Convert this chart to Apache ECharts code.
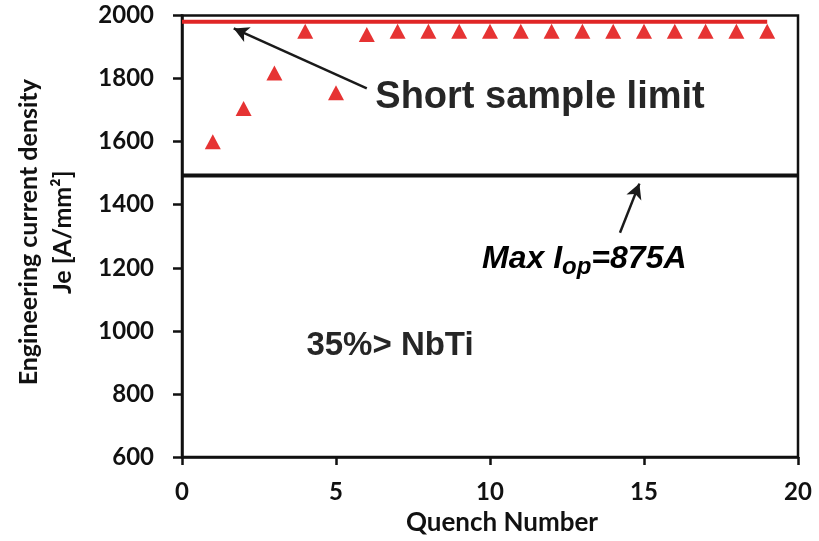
<!DOCTYPE html>
<html>
<head>
<meta charset="utf-8">
<title>Quench training</title>
<script src="https://cdn.jsdelivr.net/npm/echarts@6/dist/echarts.min.js"></script>
<style>
  html, body { margin: 0; padding: 0; background: #fff; }
  #quenchChart { width: 819px; height: 541px; }
</style>
</head>
<body>
<div id="quenchChart"></div>
<script>
  // quench number vs engineering current density Je [A/mm2]
  var quenchNo = [1, 2, 3, 4, 5, 6, 7, 8, 9, 10, 11, 12, 13, 14, 15, 16, 17, 18, 19];
  var jeValues = [1600, 1705, 1818, 1950, 1755, 1940, 1950, 1950, 1950, 1950,
                  1950, 1950, 1950, 1950, 1950, 1950, 1950, 1950, 1950];

  // short sample limit (red) and max Iop level (black)
  var limitX = [0, 19];
  var limitY = [1980, 1980];
  var maxIopX = [0, 20];
  var maxIopY = [1493, 1493];

  var xTicks = [0, 5, 10, 15, 20];
  var yTicks = [600, 800, 1000, 1200, 1400, 1600, 1800, 2000];

  function pairs(xs, ys) {
    return xs.map(function (x, i) { return [x, ys[i]] })
  }

  var axisFont = 'Lato, "Open Sans", sans-serif';
  var noteFont = '"Liberation Sans", Arial, sans-serif';

  var myChart = echarts.init(document.getElementById('quenchChart'));

  var option = {
    animation: false,
    grid: {
      left: 182,
      right: 21,
      top: 15.5,
      bottom: 83.5,
      show: true,
      borderColor: '#111',
      borderWidth: 2.5
    },
    xAxis: {
      type: 'value',
      min: xTicks[0],
      max: xTicks[xTicks.length - 1],
      interval: 5,
      name: 'Quench Number',
      nameLocation: 'middle',
      nameGap: 53,
      nameTextStyle: {
        fontFamily: axisFont,
        fontSize: 26,
        fontWeight: 'bold',
        color: '#111',
        padding: [0, 0, 0, 24]
      },
      axisLine: { lineStyle: { color: '#111', width: 2.5 } },
      axisTick: { length: 8, lineStyle: { color: '#111', width: 2.5 } },
      axisLabel: {
        margin: 23,
        fontFamily: axisFont,
        fontSize: 24,
        fontWeight: 'bold',
        color: '#111',
        formatter: function (v) { return String(v) }
      },
      splitLine: { show: false }
    },
    yAxis: {
      type: 'value',
      min: yTicks[0],
      max: yTicks[yTicks.length - 1],
      interval: 200,
      name: 'Engineering current density\nJe [A/mm²]',
      nameLocation: 'middle',
      nameGap: 102,
      nameTextStyle: {
        fontFamily: axisFont,
        fontSize: 25,
        fontWeight: 'bold',
        lineHeight: 34,
        color: '#111',
        padding: [0, 0, 0, 8]
      },
      axisLine: { lineStyle: { color: '#111', width: 2.5 } },
      axisTick: { length: 9, lineStyle: { color: '#111', width: 2.5 } },
      axisLabel: {
        margin: 28,
        fontFamily: axisFont,
        fontSize: 24,
        fontWeight: 'bold',
        color: '#111',
        formatter: function (v) { return String(v) }
      },
      splitLine: { show: false }
    },
    series: [
      {
        type: 'line',
        data: pairs(maxIopX, maxIopY),
        symbol: 'none',
        lineStyle: { color: '#111', width: 4 },
        z: 2
      },
      {
        type: 'line',
        data: pairs(limitX, limitY),
        symbol: 'none',
        lineStyle: { color: '#e02626', width: 4 },
        z: 2
      },
      {
        type: 'scatter',
        data: pairs(quenchNo, jeValues),
        symbol: 'triangle',
        symbolSize: [16, 15],
        itemStyle: { color: '#e00000' },
        z: 3,
        markLine: {
          silent: true,
          symbol: ['none', 'arrow'],
          symbolSize: [12, 15],
          label: { show: false },
          lineStyle: { color: '#1a1a1a', width: 2.5, type: 'solid' },
          data: [
            [{ coord: [6.0, 1769] }, { coord: [1.68, 1959] }],
            [{ coord: [14.22, 1311] }, { coord: [14.85, 1467] }]
          ]
        }
      }
    ],
    graphic: [
      {
        type: 'text',
        x: 540,
        y: 98,
        style: {
          text: 'Short sample limit',
          font: 'bold 38px ' + noteFont,
          fill: '#262626',
          align: 'center',
          verticalAlign: 'middle'
        }
      },
      {
        type: 'text',
        x: 390,
        y: 346,
        style: {
          text: '35%> NbTi',
          font: 'bold 33px ' + noteFont,
          fill: '#262626',
          align: 'center',
          verticalAlign: 'middle'
        }
      },
      {
        type: 'text',
        x: 482,
        y: 239,
        style: {
          text: '{a|Max I}{b|op}{a|=875A}',
          align: 'left',
          verticalAlign: 'top',
          rich: {
            a: {
              fontFamily: noteFont,
              fontSize: 32,
              fontWeight: 'bold',
              fontStyle: 'italic',
              color: '#262626',
              lineHeight: 40,
              verticalAlign: 'middle'
            },
            b: {
              fontFamily: noteFont,
              fontSize: 24,
              fontWeight: 'bold',
              fontStyle: 'italic',
              color: '#262626',
              lineHeight: 21,
              verticalAlign: 'bottom'
            }
          }
        }
      }
    ]
  };
  myChart.setOption(option);
</script>
</body>
</html>
